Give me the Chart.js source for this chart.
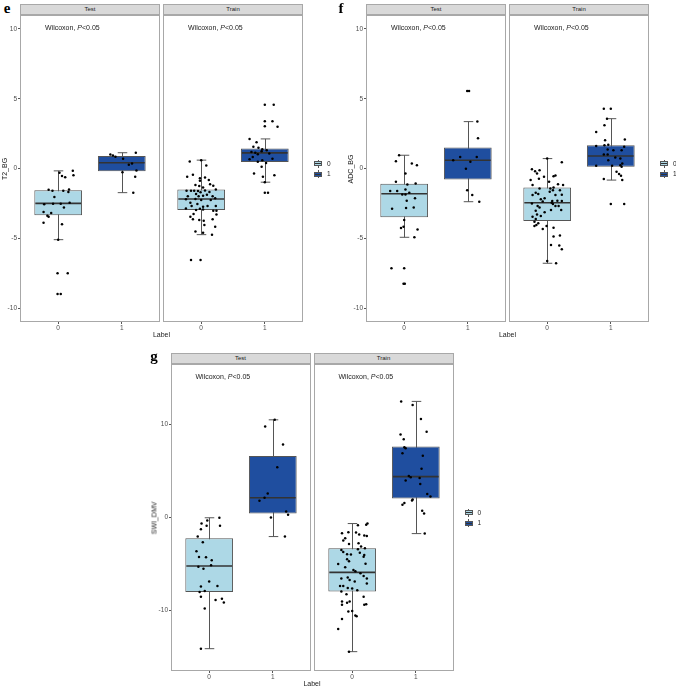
<!DOCTYPE html>
<html>
<head>
<meta charset="utf-8">
<script src="https://cdn.jsdelivr.net/npm/chart.js@4.4.1/dist/chart.umd.min.js"></script>
<style>
  html, body { margin: 0; padding: 0; background: #fff; }
  #fig { position: relative; width: 676px; height: 686px; overflow: hidden;
         font-family: "Liberation Sans", Arial, sans-serif; color: #1a1a1a; }
  #fig canvas { position: absolute; }
  .t { position: absolute; white-space: nowrap; line-height: 1; }
  .strip { position: absolute; background: #d9d9d9; border: 1px solid #a8a8a8;
           box-sizing: border-box; font-size: 6px; text-align: center; color: #1a1a1a; }
  .letter { font-family: "Liberation Serif", "DejaVu Serif", serif; font-weight: bold; font-size: 15px; color: #000; }
</style>
</head>
<body>
<div id="fig"></div>
<script>
// ---- data ----
const groups = ['0', '1'];
const xTicks = [0, 1];
const yTicksEF = [-10, -5, 0, 5, 10];
const yTicksG = [-10, 0, 10];

// box stats per group: [lower whisker, q1, median, q3, upper whisker]
const eTestBox  = [[-5.1, -3.35, -2.5, -1.55, -0.17], [-1.73, -0.19, 0.41, 0.89, 1.13]];
const eTrainBox = [[-4.74, -2.98, -2.19, -1.5, 0.6], [-0.98, 0.46, 1.12, 1.44, 2.12]];
const fTestBox  = [[-4.93, -3.5, -1.81, -1.1, 0.95], [-2.38, -0.79, 0.59, 1.5, 3.36]];
const fTrainBox = [[-6.79, -3.76, -2.45, -1.36, 0.71], [-0.83, 0.12, 0.9, 1.67, 3.57]];
const gTestBox  = [[-14.1, -8.0, -5.22, -2.23, -0.03], [-2.05, 0.43, 2.12, 6.62, 10.5]];
const gTrainBox = [[-14.42, -7.95, -5.9, -3.31, -0.65], [-1.73, 2.05, 4.39, 7.63, 12.48]];

// jittered points: [jitter offset, value]
const eTest0 = [[0.02,-0.31],[0.06,-0.53],[0.11,-0.62],[0.23,-0.17],[0.24,-0.48],[-0.15,-1.53],[-0.09,-1.6],
  [0.08,-1.6],[0.16,-1.68],[0.17,-1.51],[-0.06,-2.04],[-0.22,-2.57],[-0.08,-2.52],[0.04,-2.52],[0.18,-2.45],
  [0.09,-2.8],[-0.23,-3.12],[-0.11,-3.19],[-0.17,-3.38],[-0.15,-3.45],[-0.23,-3.88],[0.06,-4.0],[0.0,-5.1],
  [-0.01,-7.5],[0.15,-7.5],[-0.01,-9.0],[0.04,-9.0]];
const eTest1 = [[-0.18,1.0],[-0.14,0.93],[-0.10,0.84],[0.02,0.7],[0.22,1.13],[0.11,0.26],[0.16,0.36],
  [0.01,-0.26],[0.23,-0.14],[0.21,-0.6],[0.18,-1.73]];
const eTrain0 = [[-0.18,0.5],[0.0,0.6],[0.08,0.21],[-0.22,-0.6],[-0.13,-0.45],[-0.02,-0.69],[-0.02,-0.88],
  [0.06,-0.64],[0.12,-0.83],[0.14,-1.12],[-0.09,-1.19],[-0.03,-1.26],[0.03,-1.36],[0.19,-1.24],[-0.23,-1.6],
  [-0.16,-1.6],[-0.11,-1.6],[-0.05,-1.62],[-0.01,-1.71],[0.06,-1.57],[0.13,-1.69],[0.23,-1.5],[-0.08,-1.83],
  [-0.04,-1.98],[-0.21,-1.98],[0.03,-1.95],[0.09,-1.88],[0.18,-1.98],[-0.24,-2.21],[-0.09,-2.19],[0.0,-2.26],
  [0.15,-2.26],[0.22,-2.14],[-0.17,-2.45],[-0.06,-2.55],[0.03,-2.74],[-0.02,-2.88],[0.10,-2.69],[-0.24,-2.86],
  [-0.15,-2.69],[0.23,-2.69],[-0.08,-2.98],[0.03,-2.93],[0.24,-3.02],[-0.12,-3.26],[0.19,-3.02],[-0.17,-3.45],
  [-0.13,-3.64],[-0.03,-3.69],[0.04,-3.74],[0.18,-3.64],[0.24,-3.29],[0.05,-4.05],[0.22,-4.17],[-0.09,-4.52],
  [0.03,-4.6],[0.17,-4.74],[-0.16,-6.55],[-0.01,-6.55]];
const eTrain1 = [[0.0,4.57],[0.14,4.57],[0.0,3.38],[0.12,3.38],[0.0,3.02],[0.2,3.0],[-0.24,2.12],[-0.13,1.88],
  [-0.18,1.55],[-0.1,1.48],[-0.04,1.38],[0.03,1.31],[-0.05,1.24],[-0.21,1.19],[-0.15,1.12],[-0.11,1.02],
  [0.07,1.07],[0.12,0.69],[-0.19,0.83],[-0.24,0.67],[-0.04,0.6],[-0.11,0.48],[0.02,0.4],[-0.05,0.12],
  [-0.17,-0.36],[0.15,-0.48],[-0.03,-0.6],[0.0,-0.98],[0.0,-1.74],[0.05,-1.74]];
const fTest0 = [[-0.08,0.95],[-0.13,0.52],[0.12,0.36],[0.2,0.24],[0.02,-0.36],[-0.13,-0.95],[0.05,-1.14],
  [0.18,-1.07],[-0.22,-1.62],[-0.11,-1.62],[0.02,-1.5],[-0.03,-1.86],[0.02,-1.86],[0.08,-1.74],[0.17,-2.14],
  [0.04,-2.31],[-0.19,-2.88],[0.03,-2.83],[0.15,-2.79],[0.0,-3.69],[-0.01,-4.17],[-0.05,-4.26],[0.21,-4.38],
  [0.16,-4.93],[-0.2,-7.14],[0.0,-7.14],[-0.01,-8.26],[0.01,-8.26]];
const fTest1 = [[-0.01,5.56],[0.02,5.56],[0.15,3.36],[0.16,2.16],[-0.12,0.83],[0.14,0.83],[-0.23,0.6],
  [0.04,0.48],[-0.03,-0.02],[-0.01,-1.55],[0.07,-1.9],[0.18,-2.38]];
const fTrain0 = [[0.23,0.45],[0.0,0.71],[-0.24,-0.05],[-0.19,-0.19],[-0.12,-0.12],[-0.16,-0.36],[-0.26,-0.83],
  [-0.13,-0.74],[-0.05,-0.6],[0.1,-0.55],[0.13,-0.5],[0.03,-0.95],[0.17,-1.12],[0.25,-1.19],[-0.23,-1.19],
  [-0.12,-1.43],[0.05,-1.43],[0.1,-1.36],[0.2,-1.55],[-0.18,-1.74],[-0.14,-1.83],[-0.23,-1.9],[0.04,-1.67],
  [0.09,-1.55],[0.23,-1.88],[0.13,-1.9],[-0.04,-2.14],[-0.1,-2.21],[0.08,-2.33],[0.16,-2.31],[0.23,-2.33],
  [-0.07,-2.36],[0.07,-2.45],[0.09,-2.55],[0.13,-2.69],[-0.15,-2.69],[0.18,-2.69],[-0.24,-2.5],[0.22,-2.98],
  [-0.12,-2.79],[0.06,-2.98],[-0.18,-3.02],[-0.04,-3.14],[-0.23,-3.45],[-0.16,-3.29],[-0.1,-3.4],[-0.18,-3.62],
  [-0.2,-3.81],[-0.14,-3.93],[-0.17,-4.05],[-0.2,-4.12],[-0.07,-4.33],[-0.01,-4.12],[0.1,-4.24],[0.1,-4.88],
  [0.2,-4.81],[0.06,-5.48],[0.19,-5.52],[0.23,-5.79],[0.0,-6.62],[0.14,-6.79]];
const fTrain1 = [[-0.11,4.29],[0.0,4.29],[-0.06,3.57],[-0.1,3.1],[-0.23,2.62],[-0.09,2.02],[0.22,2.07],
  [-0.23,1.62],[-0.1,1.67],[-0.04,1.71],[0.21,1.55],[0.17,1.31],[-0.05,1.36],[0.04,1.31],[-0.11,1.0],
  [-0.05,1.0],[0.07,0.79],[-0.04,0.6],[0.15,0.71],[0.15,0.24],[-0.23,0.19],[0.02,0.19],[0.18,0.36],
  [0.17,0.12],[0.09,-0.24],[0.13,-0.4],[0.16,-0.52],[0.18,-0.83],[-0.11,-0.76],[0.0,-2.55],[0.21,-2.55]];
const gTest0 = [[-0.03,-0.32],[-0.12,-0.65],[-0.04,-0.9],[0.16,-0.03],[0.17,-0.9],[-0.13,-1.26],[-0.18,-2.05],
  [-0.1,-2.66],[-0.2,-3.63],[-0.16,-4.24],[-0.05,-4.28],[0.04,-4.6],[-0.17,-5.29],[-0.09,-5.5],[0.03,-5.14],
  [0.0,-6.87],[-0.13,-7.41],[0.13,-7.37],[-0.15,-8.02],[-0.07,-7.91],[-0.13,-8.53],[0.1,-8.88],[0.2,-8.74],
  [0.23,-9.14],[-0.07,-9.78],[-0.13,-14.1]];
const gTest1 = [[0.03,10.5],[-0.12,9.78],[0.16,7.84],[0.07,5.4],[-0.08,2.59],[-0.13,2.12],[-0.21,1.8],
  [0.21,0.65],[0.24,0.29],[-0.03,0.0],[0.19,-2.05]];
const gTrain0 = [[0.24,-0.65],[0.22,-0.79],[0.09,-0.83],[-0.06,-1.58],[-0.16,-1.69],[0.06,-1.62],[0.11,-1.83],
  [0.19,-1.94],[0.23,-1.98],[-0.11,-2.23],[-0.14,-2.48],[-0.05,-2.84],[0.1,-2.77],[0.2,-3.31],[0.14,-3.13],
  [0.09,-3.42],[-0.17,-3.49],[-0.14,-3.71],[-0.08,-3.96],[-0.02,-3.99],[0.12,-3.78],[0.19,-4.03],[0.18,-4.21],
  [-0.08,-4.5],[-0.05,-4.71],[-0.22,-5.0],[-0.11,-5.36],[0.21,-4.96],[0.02,-5.65],[0.05,-5.79],[0.13,-6.0],
  [0.18,-6.29],[-0.07,-6.44],[-0.04,-6.73],[-0.17,-6.55],[0.23,-6.55],[0.04,-6.87],[0.23,-7.09],[-0.19,-7.37],
  [-0.14,-7.37],[-0.07,-7.59],[0.0,-7.63],[0.08,-7.81],[-0.17,-7.95],[-0.09,-8.24],[0.18,-8.53],[-0.16,-9.03],
  [-0.08,-9.17],[-0.04,-9.03],[0.19,-9.39],[0.22,-9.32],[-0.16,-9.39],[-0.06,-10.1],[0.0,-10.04],[0.05,-10.54],
  [0.07,-10.61],[-0.16,-10.9],[-0.22,-11.98],[-0.05,-14.42]];
const gTrain1 = [[-0.23,12.48],[-0.05,12.09],[0.08,10.58],[0.17,9.21],[-0.24,8.92],[-0.19,8.42],[-0.18,7.55],
  [-0.16,7.45],[-0.21,6.91],[0.11,6.65],[0.09,5.25],[-0.11,4.46],[-0.08,4.32],[0.06,4.24],[-0.16,3.99],
  [0.07,3.6],[0.18,2.52],[0.23,2.27],[-0.05,1.94],[-0.06,1.83],[-0.18,1.55],[-0.21,1.37],[0.1,0.72],
  [0.13,0.43],[0.14,-1.73]];

// ---- look ----
const fillCols = ['#add8e6', '#1f4e9f'];
const lineCol = '#555555';
const borderCol = '#a8a8a8';
const tickCol = '#4d4d4d';
const PW = 140, PH = 307, GAP = 3, STRIP = 11, YAXW = 20, XAXH = 20;

const fig = document.getElementById('fig');

function txt(html, x, y, size, cls, align) {
  const d = document.createElement('div');
  d.className = 't ' + (cls || '');
  d.innerHTML = html;
  d.style.left = x + 'px';
  d.style.top = y + 'px';
  d.style.fontSize = size + 'px';
  d.style.transform = align === 'left' ? 'translate(0,-50%)' : 'translate(-50%,-50%)';
  fig.appendChild(d);
  return d;
}

function box(x, y, w, h, css) {
  const d = document.createElement('div');
  d.style.position = 'absolute';
  d.style.left = x + 'px'; d.style.top = y + 'px';
  d.style.width = w + 'px'; d.style.height = h + 'px';
  Object.assign(d.style, css || {});
  fig.appendChild(d);
  return d;
}

// whiskers under the boxes, median on top of the box, frame on top
const boxWhisker = {
  id: 'boxWhisker',
  beforeDatasetsDraw(chart, args, opts) {
    const { ctx, scales: { x, y } } = chart;
    const half = x.getPixelForValue(0.075) - x.getPixelForValue(0);
    ctx.save();
    ctx.strokeStyle = lineCol;
    ctx.lineWidth = 1;
    opts.stats.forEach((s, i) => {
      const px = Math.round(x.getPixelForValue(xTicks[i])) + 0.5;
      const lo = y.getPixelForValue(s[0]), hi = y.getPixelForValue(s[4]);
      ctx.beginPath();
      ctx.moveTo(px, lo); ctx.lineTo(px, hi);
      ctx.moveTo(px - half, lo); ctx.lineTo(px + half, lo);
      ctx.moveTo(px - half, hi); ctx.lineTo(px + half, hi);
      ctx.stroke();
    });
    ctx.restore();
  },
  afterDatasetDraw(chart, args, opts) {
    if (args.index !== 0) return;
    const { ctx, scales: { y } } = chart;
    ctx.save();
    ctx.strokeStyle = '#333333';
    ctx.lineWidth = 1.6;
    chart.getDatasetMeta(0).data.forEach((bar, i) => {
      const py = y.getPixelForValue(opts.stats[i][2]);
      ctx.beginPath();
      ctx.moveTo(bar.x - bar.width / 2 + 1, py);
      ctx.lineTo(bar.x + bar.width / 2 - 1, py);
      ctx.stroke();
    });
    ctx.restore();
  },
  afterDatasetsDraw(chart) {
    const { ctx, chartArea: a } = chart;
    ctx.save();
    ctx.strokeStyle = borderCol;
    ctx.lineWidth = 1;
    ctx.strokeRect(a.left + 0.5, a.top + 0.5, a.width - 1, a.height - 1);
    ctx.restore();
  }
};

function facet(left, top, withY, yMin, yMax, yTicks, stats, pts0, pts1) {
  const cv = document.createElement('canvas');
  const w = PW + (withY ? YAXW : 0), h = PH + XAXH;
  cv.width = w; cv.height = h;
  cv.style.left = (left - (withY ? YAXW : 0)) + 'px';
  cv.style.top = top + 'px';
  cv.style.width = w + 'px'; cv.style.height = h + 'px';
  fig.appendChild(cv);

  const points = pts0.map(p => ({ x: xTicks[0] + p[0], y: p[1] }))
    .concat(pts1.map(p => ({ x: xTicks[1] + p[0], y: p[1] })));

  new Chart(cv, {
    type: 'bar',
    data: {
      datasets: [
        {
          type: 'bar',
          data: stats.map((s, i) => ({ x: xTicks[i], y: [s[1], s[3]] })),
          backgroundColor: fillCols,
          borderColor: lineCol,
          borderWidth: 1,
          borderSkipped: false,
          grouped: false,
          barPercentage: 0.75,
          categoryPercentage: 1,
          order: 2
        },
        {
          type: 'scatter',
          data: points,
          pointRadius: 1.25,
          pointBorderWidth: 0,
          pointBackgroundColor: '#000',
          order: 1
        }
      ]
    },
    options: {
      responsive: false,
      animation: false,
      events: [],
      layout: { padding: 0, autoPadding: false },
      plugins: { legend: { display: false }, tooltip: { enabled: false }, boxWhisker: { stats: stats } },
      scales: {
        x: {
          type: 'linear', min: -0.6, max: 1.6, offset: false,
          afterBuildTicks: s => { s.ticks = xTicks.map(v => ({ value: v })); },
          afterFit: s => { s.height = XAXH; s.paddingLeft = 0; s.paddingRight = 0; },
          ticks: { padding: 0, color: tickCol, font: { family: 'Liberation Sans', size: 6.5 },
                   callback: (v, i) => groups[i] },
          grid: { offset: false, drawOnChartArea: false, drawTicks: true, tickLength: 2, color: lineCol },
          border: { display: false }
        },
        y: {
          type: 'linear', min: yMin, max: yMax, display: withY,
          afterBuildTicks: s => { s.ticks = yTicks.map(v => ({ value: v })); },
          afterFit: s => { if (withY) s.width = YAXW; s.paddingTop = 0; s.paddingBottom = 0; },
          ticks: { padding: 1, color: tickCol, font: { family: 'Liberation Sans', size: 6.5 } },
          grid: { drawOnChartArea: false, drawTicks: true, tickLength: 2, color: lineCol },
          border: { display: false }
        }
      }
    },
    plugins: [boxWhisker]
  });
}

function panel(letter, letterX, letterY, x0, y0, yTitle, yTitleX, yMin, yMax, yTicks, facets) {
  txt(letter, letterX, letterY, 15, 'letter');
  facets.forEach((f, j) => {
    const px = x0 + j * (PW + GAP);
    const st = box(px, y0 - STRIP, PW, STRIP);
    st.className = 'strip';
    st.style.lineHeight = (STRIP - 2) + 'px';
    st.textContent = f.name;
    facet(px, y0, j === 0, yMin, yMax, yTicks, f.stats, f.pts[0], f.pts[1]);
    txt('Wilcoxon, <i>P</i>&lt;0.05', px + 25, y0 + 11.7, 7, '', 'left');
  });
  const right = x0 + 2 * PW + GAP;
  txt('Label', (x0 + right) / 2, y0 + PH + 12, 7);
  const yt = txt(yTitle, yTitleX, y0 + PH / 2, 7);
  yt.style.transform = 'translate(-50%,-50%) rotate(-90deg)';

  // legend keys
  const kx = right + 15, cy = y0 + PH / 2;
  groups.forEach((g, i) => {
    const ky = cy - 5 + i * 10.5;
    box(kx - 0.5, ky - 4, 1, 8, { background: lineCol });
    box(kx - 4, ky - 2.5, 8, 5, { background: fillCols[i], border: '1px solid ' + lineCol, boxSizing: 'border-box' });
    box(kx - 3, ky - 0.5, 6, 1, { background: '#333' });
    txt(g, kx + 9, ky, 6.5, '', 'left');
  });
}

panel('e', 7, 8, 20, 15, 'T2_BG', 4, -11, 11, yTicksEF, [
  { name: 'Test', stats: eTestBox, pts: [eTest0, eTest1] },
  { name: 'Train', stats: eTrainBox, pts: [eTrain0, eTrain1] }
]);
panel('f', 341, 8, 366, 15, 'ADC_BG', 349.5, -11, 11, yTicksEF, [
  { name: 'Test', stats: fTestBox, pts: [fTest0, fTest1] },
  { name: 'Train', stats: fTrainBox, pts: [fTrain0, fTrain1] }
]);
panel('g', 154, 356, 170.5, 364, 'SWI_DMV', 153.5, -16.5, 16.5, yTicksG, [
  { name: 'Test', stats: gTestBox, pts: [gTest0, gTest1] },
  { name: 'Train', stats: gTrainBox, pts: [gTrain0, gTrain1] }
]);
</script>
</body>
</html>
